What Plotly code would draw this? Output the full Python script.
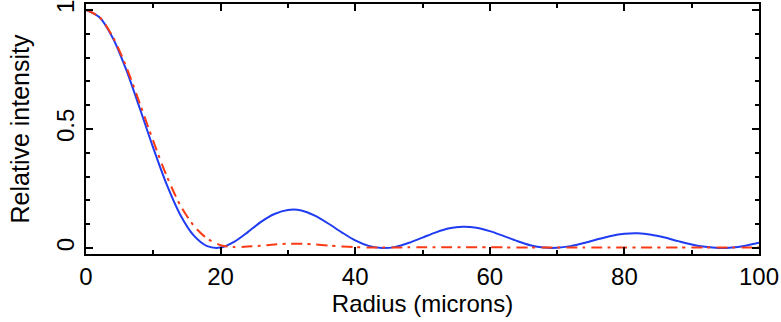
import plotly.graph_objects as go

radius = [0, 2, 4, 6, 8, 10, 12, 14, 16, 18, 20, 22, 24, 26, 28, 30, 32, 34, 36, 38, 40,
          42, 44, 46, 48, 50, 52, 54, 56, 58, 60, 62, 64, 66, 68, 70, 72, 74, 76, 78, 80,
          82, 84, 86, 88, 90, 92, 94, 96, 98, 100]

bessel_beam = [1.0, 0.969, 0.881, 0.747, 0.586, 0.420, 0.266, 0.140, 0.053, 0.008, 0.002,
               0.026, 0.066, 0.110, 0.143, 0.160, 0.158, 0.136, 0.103, 0.066, 0.032,
               0.009, 0.000, 0.005, 0.022, 0.044, 0.066, 0.083, 0.089, 0.085, 0.071,
               0.051, 0.030, 0.012, 0.002, 0.001, 0.008, 0.021, 0.037, 0.051, 0.060,
               0.062, 0.056, 0.044, 0.029, 0.015, 0.005, 0.000, 0.002, 0.010, 0.022]

gaussian_spot = [1.0, 0.970, 0.886, 0.760, 0.607, 0.449, 0.302, 0.180, 0.094, 0.040, 0.012,
                 0.004, 0.006, 0.010, 0.015, 0.018, 0.018, 0.015, 0.011, 0.007, 0.004,
                 0.002, 0.002, 0.002, 0.003, 0.003, 0.003, 0.003, 0.003, 0.003, 0.003,
                 0.003, 0.002, 0.002, 0.002, 0.002, 0.002, 0.002, 0.002, 0.002, 0.002,
                 0.002, 0.002, 0.002, 0.002, 0.002, 0.002, 0.002, 0.002, 0.002, 0.002]

x_ticks = [0, 20, 40, 60, 80, 100]
y_ticks = [0, 0.5, 1]
y_tick_text = ["0", "0.5", "1"]

FONT = "Liberation Sans, Arial, Helvetica, sans-serif"

fig = go.Figure()
fig.add_trace(go.Scatter(x=radius, y=bessel_beam, mode="lines",
                         line=dict(color="#1f3cf2", width=2, shape="spline", smoothing=0.8),
                         showlegend=False))
fig.add_trace(go.Scatter(x=radius, y=gaussian_spot, mode="lines",
                         line=dict(color="#fa3a14", width=2, shape="spline", smoothing=0.8,
                                   dash="11px,5px,3px,6px"),
                         showlegend=False))

fig.update_layout(
    width=781, height=322,
    margin=dict(l=86, r=22, t=4, b=68),
    paper_bgcolor="white", plot_bgcolor="white",
    font=dict(family=FONT, size=24, color="black"),
    xaxis=dict(range=[0, 100], tickvals=x_ticks, ticks="inside", ticklen=7, tickwidth=1.5,
               tickcolor="black", showline=True, linewidth=2, linecolor="black",
               mirror="allticks", showgrid=False, zeroline=False, automargin=False,
               ticklabeloverflow="allow",
               minor=dict(dtick=10, tick0=0, ticks="inside", ticklen=4, tickwidth=1.5,
                          tickcolor="black", showgrid=False),
               title=dict(text="Radius (microns)", standoff=1, font=dict(size=24)),
               tickfont=dict(size=24)),
    yaxis=dict(range=[-0.025, 1.025], tickvals=y_ticks, ticktext=y_tick_text,
               ticks="inside", ticklen=7, tickwidth=1.5, tickangle=-90,
               tickcolor="black", showline=True, linewidth=2, linecolor="black",
               mirror="allticks", showgrid=False, zeroline=False, automargin=False,
               ticklabeloverflow="allow",
               minor=dict(dtick=0.1, tick0=0, ticks="inside", ticklen=4, tickwidth=1.5,
                          tickcolor="black", showgrid=False),
               title=dict(text="Relative intensity", standoff=16, font=dict(size=25)),
               tickfont=dict(size=24)),
)

fig.write_html("out.html", config={"displayModeBar": False},
               post_script="document.body.style.margin='0';document.body.style.padding='0';")
